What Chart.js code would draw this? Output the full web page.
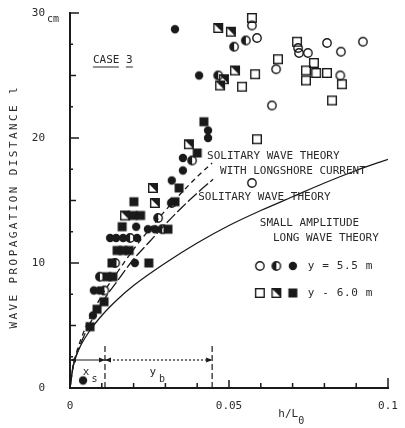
<!DOCTYPE html>
<html>
<head>
<meta charset="utf-8">
<script src="https://cdn.jsdelivr.net/npm/chart.js@4.4.1/dist/chart.umd.min.js"></script>
<style>
  html, body { margin: 0; padding: 0; background: #fff; }
  #wrap { width: 405px; height: 428px; }
</style>
</head>
<body>
<div id="wrap"><canvas id="chart"></canvas></div>
<script>
// h/L0 (x) and wave propagation distance l in cm (y)

// y = 5.5 m
const openCircleX = [0.0572, 0.0588, 0.0648, 0.0635, 0.0717, 0.0720, 0.0748, 0.0808, 0.0852, 0.0921, 0.0850, 0.0572];
const openCircleY = [29.0, 28.0, 25.5, 22.6, 27.2, 26.8, 26.8, 27.6, 26.9, 27.7, 25.0, 16.4];
const halfCircleX = [0.0516, 0.0553, 0.0466, 0.0108, 0.0094, 0.0142, 0.0189, 0.0290, 0.0277, 0.0320, 0.0384];
const halfCircleY = [27.3, 27.8, 25.0, 7.8, 8.9, 10.0, 12.0, 12.7, 13.6, 14.8, 18.2];
const fullCircleX = [0.0330, 0.0406, 0.0434, 0.0434, 0.0355, 0.0355, 0.0320, 0.0208, 0.0245, 0.0267,
                     0.0126, 0.0145, 0.0167, 0.0211, 0.0204, 0.0075, 0.0092, 0.0072, 0.0041];
const fullCircleY = [28.7, 25.0, 20.6, 20.0, 18.4, 17.4, 16.6, 12.9, 12.7, 12.7,
                     12.0, 12.0, 12.0, 12.0, 10.0, 7.8, 7.8, 5.8, 0.6];

// y = 6.0 m
const openSquareX = [0.0572, 0.0582, 0.0541, 0.0654, 0.0714, 0.0767, 0.0742, 0.0742, 0.0774, 0.0808, 0.0855, 0.0824, 0.0588];
const openSquareY = [29.6, 25.1, 24.1, 26.3, 27.7, 26.0, 25.4, 24.6, 25.2, 25.2, 24.3, 23.0, 19.9];
const halfSquareX = [0.0466, 0.0506, 0.0472, 0.0484, 0.0519, 0.0374, 0.0261, 0.0267, 0.0173];
const halfSquareY = [28.8, 28.5, 24.2, 24.7, 25.4, 19.5, 16.0, 14.8, 13.8];
const fullSquareX = [0.0421, 0.0400, 0.0343, 0.0201, 0.0330, 0.0198, 0.0222, 0.0164, 0.0308, 0.0148,
                     0.0167, 0.0186, 0.0132, 0.0248, 0.0116, 0.0135, 0.0107, 0.0085, 0.0063];
const fullSquareY = [21.3, 18.8, 16.0, 14.9, 14.9, 13.8, 13.8, 12.9, 12.7, 11.0,
                     11.0, 11.0, 10.0, 10.0, 8.9, 8.9, 6.9, 6.3, 4.9];

// theory curves
const smallAmpX = [0, 0.001, 0.003, 0.006, 0.01, 0.015, 0.02, 0.03, 0.04, 0.05, 0.06, 0.07, 0.08, 0.09, 0.1];
const smallAmpY = [0, 1.8, 3.2, 4.5, 5.8, 7.1, 8.2, 10.0, 11.6, 13.0, 14.2, 15.3, 16.4, 17.4, 18.3];
const solitaryX = [0, 0.001, 0.002, 0.005, 0.01, 0.015, 0.02, 0.025, 0.03, 0.035, 0.04, 0.045];
const solitaryY = [0, 1.7, 2.6, 4.5, 6.8, 8.6, 10.3, 11.7, 13.1, 14.4, 15.6, 16.7];
const longshoreX = [0, 0.001, 0.002, 0.005, 0.01, 0.015, 0.02, 0.025, 0.03, 0.035, 0.04, 0.0447];
const longshoreY = [0, 1.8, 2.8, 4.9, 7.4, 9.3, 11.1, 12.7, 14.2, 15.6, 16.9, 18.0];

// breaking zone markers
const xsEnd = 0.011;
const ybEnd = 0.0447;

const xTickLabels = ['0', '0.05', '0.1'];
const yTickLabels = ['0', '10', '20', '30'];

const INK = '#1a1a1a';
const TEXT = '#2a2a2a';
const MONO = '"DejaVu Sans Mono", monospace';

function pts(xs, ys) {
  return xs.map((x, i) => ({ x: x, y: ys[i] }));
}

function marker(shape, fill) {
  const c = document.createElement('canvas');
  c.width = 12; c.height = 12;
  const g = c.getContext('2d');
  g.strokeStyle = INK; g.fillStyle = INK; g.lineWidth = 1.4;
  if (shape === 'circle') {
    g.beginPath(); g.arc(6, 6, 4.2, 0, Math.PI * 2);
    if (fill === 'full') g.fill(); else g.stroke();
    if (fill === 'half') {
      g.beginPath(); g.arc(6, 6, 4.2, Math.PI / 2, Math.PI * 1.5); g.closePath(); g.fill();
    }
  } else {
    if (fill === 'full') {
      g.fillRect(1.5, 1.5, 9, 9);
    } else {
      g.strokeRect(1.7, 1.7, 8.6, 8.6);
      if (fill === 'half') {
        g.beginPath(); g.moveTo(1.5, 1.5); g.lineTo(10.5, 1.5); g.lineTo(10.5, 10.5); g.closePath(); g.fill();
      }
    }
  }
  return c;
}

const mk = {
  oc: marker('circle', 'open'), hc: marker('circle', 'half'), fc: marker('circle', 'full'),
  os: marker('square', 'open'), hs: marker('square', 'half'), fs: marker('square', 'full')
};

function curve(label, xs, ys, dash) {
  return {
    label: label, data: pts(xs, ys), showLine: true, pointRadius: 0,
    borderColor: INK, borderWidth: 1.3, borderDash: dash,
    cubicInterpolationMode: 'monotone', fill: false
  };
}

function scatter(label, xs, ys, img) {
  return { label: label, data: pts(xs, ys), pointStyle: img, pointRadius: 5, showLine: false };
}

const annotations = {
  id: 'annotations',
  afterDraw(chart) {
    const ctx = chart.ctx;
    const xs = chart.scales.x, ys = chart.scales.y;
    const X = v => xs.getPixelForValue(v), Y = v => ys.getPixelForValue(v);
    const area = chart.chartArea;
    ctx.save();
    ctx.strokeStyle = INK; ctx.fillStyle = INK;

    // inward ticks
    ctx.lineWidth = 1.5;
    for (let v = 2.5; v <= 30; v += 2.5) {
      const len = v % 10 === 0 ? 9 : (v % 5 === 0 ? 6 : 3);
      ctx.beginPath(); ctx.moveTo(area.left, Y(v)); ctx.lineTo(area.left + len, Y(v)); ctx.stroke();
    }
    for (let i = 1; i <= 10; i++) {
      const len = i === 10 ? 10 : (i === 5 ? 8 : 5);
      ctx.beginPath(); ctx.moveTo(X(i / 100), area.bottom); ctx.lineTo(X(i / 100), area.bottom - len); ctx.stroke();
    }

    // breaking zone: dashed verticals and arrow line
    ctx.lineWidth = 1.2;
    ctx.setLineDash([6, 3]);
    [xsEnd, ybEnd].forEach(v => {
      ctx.beginPath(); ctx.moveTo(X(v), area.bottom); ctx.lineTo(X(v), Y(3.6)); ctx.stroke();
    });
    ctx.setLineDash([]);
    const ya = Y(2.24);
    ctx.beginPath(); ctx.moveTo(X(0), ya); ctx.lineTo(X(xsEnd), ya); ctx.stroke();
    ctx.setLineDash([2, 2]);
    ctx.beginPath(); ctx.moveTo(X(xsEnd), ya); ctx.lineTo(X(ybEnd), ya); ctx.stroke();
    ctx.setLineDash([]);
    function head(x, dir) {
      ctx.beginPath(); ctx.moveTo(x, ya); ctx.lineTo(x - dir * 6, ya - 2.5); ctx.lineTo(x - dir * 6, ya + 2.5); ctx.closePath(); ctx.fill();
    }
    head(X(0), -1); head(X(xsEnd), 1); head(X(xsEnd), -1); head(X(ybEnd), 1);

    // text
    ctx.fillStyle = TEXT; ctx.strokeStyle = TEXT;
    ctx.font = '11px ' + MONO;
    ctx.textBaseline = 'middle'; ctx.textAlign = 'left';
    const labels = [
      ['CASE 3', 0.0072, 26.24],
      ['SOLITARY WAVE THEORY', 0.0431, 18.56],
      ['WITH LONGSHORE CURRENT', 0.0472, 17.36],
      ['SOLITARY WAVE THEORY', 0.0403, 15.28],
      ['SMALL AMPLITUDE', 0.0597, 13.2],
      ['LONG WAVE THEORY', 0.0638, 12.0]
    ];
    labels.forEach(l => ctx.fillText(l[0], X(l[1]), Y(l[2])));
    // CASE 3 underline
    ctx.lineWidth = 1;
    ctx.beginPath();
    ctx.moveTo(X(0.0072), Y(26.24) + 7); ctx.lineTo(X(0.0072) + 26, Y(26.24) + 7);
    ctx.moveTo(X(0.0072) + 33, Y(26.24) + 7); ctx.lineTo(X(0.0072) + 40, Y(26.24) + 7);
    ctx.stroke();

    // legend
    const legendRows = [
      [[mk.oc, mk.hc, mk.fc], 'y = 5.5 m', 9.76],
      [[mk.os, mk.hs, mk.fs], 'y - 6.0 m', 7.6]
    ];
    ctx.letterSpacing = '0.6px';
    legendRows.forEach(r => {
      r[0].forEach((img, i) => ctx.drawImage(img, X(0.0597) + i * 16.5 - 6, Y(r[2]) - 6));
      ctx.fillText(r[1], X(0.0748), Y(r[2]));
    });
    ctx.letterSpacing = '0px';

    // zone labels
    ctx.font = '11px ' + MONO;
    ctx.fillText('x', X(0.0040), Y(1.3));
    ctx.fillText('y', X(0.0250), Y(1.3));
    ctx.font = '10px ' + MONO;
    ctx.fillText('s', X(0.0068), Y(0.65));
    ctx.fillText('b', X(0.0280), Y(0.65));

    // x axis title
    ctx.font = '11px ' + MONO;
    ctx.fillText('h/L', X(0.0655), area.bottom + 26);
    ctx.font = '10px ' + MONO;
    ctx.fillText('0', X(0.0655) + 20, area.bottom + 33);

    // unit next to top tick
    ctx.fillText('cm', 47, Y(30) + 6);

    // y axis title
    ctx.save();
    ctx.translate(14, Y(14.5));
    ctx.rotate(-Math.PI / 2);
    ctx.textAlign = 'center';
    ctx.font = '11px ' + MONO;
    ctx.letterSpacing = '2.4px';
    ctx.fillText('WAVE PROPAGATION DISTANCE l', 0, 0);
    ctx.restore();

    ctx.restore();
  }
};

new Chart(document.getElementById('chart'), {
  type: 'scatter',
  data: {
    datasets: [
      curve('Small amplitude long wave theory', smallAmpX, smallAmpY, []),
      curve('Solitary wave theory', solitaryX, solitaryY, [12, 3]),
      curve('Solitary wave theory with longshore current', longshoreX, longshoreY, [5, 4]),
      scatter('y = 5.5 m (open)', openCircleX, openCircleY, mk.oc),
      scatter('y = 5.5 m (half)', halfCircleX, halfCircleY, mk.hc),
      scatter('y = 5.5 m (full)', fullCircleX, fullCircleY, mk.fc),
      scatter('y = 6.0 m (open)', openSquareX, openSquareY, mk.os),
      scatter('y = 6.0 m (half)', halfSquareX, halfSquareY, mk.hs),
      scatter('y = 6.0 m (full)', fullSquareX, fullSquareY, mk.fs)
    ]
  },
  options: {
    responsive: true,
    maintainAspectRatio: false,
    animation: false,
    layout: { padding: { top: 13, right: 17, left: 0, bottom: 0 }, autoPadding: false },
    plugins: { legend: { display: false }, tooltip: { enabled: false } },
    scales: {
      x: {
        type: 'linear', min: 0, max: 0.1,
        afterFit: s => { s.height = 40; s.paddingLeft = 0; s.paddingRight = 0; },
        grid: { display: false, drawTicks: false },
        border: { display: true, color: INK, width: 2 },
        ticks: {
          stepSize: 0.05, padding: 12, maxRotation: 0, autoSkip: false, color: TEXT,
          font: { family: MONO, size: 11 },
          callback: (v, i) => xTickLabels[i]
        }
      },
      y: {
        type: 'linear', min: 0, max: 30,
        afterFit: s => { s.width = 70; s.paddingTop = 0; s.paddingBottom = 0; },
        grid: { display: false, drawTicks: false },
        border: { display: true, color: INK, width: 2 },
        ticks: {
          stepSize: 10, padding: 25, color: TEXT,
          font: { family: MONO, size: 11 },
          callback: (v, i) => yTickLabels[i]
        }
      }
    }
  },
  plugins: [annotations]
});
</script>
</body>
</html>
